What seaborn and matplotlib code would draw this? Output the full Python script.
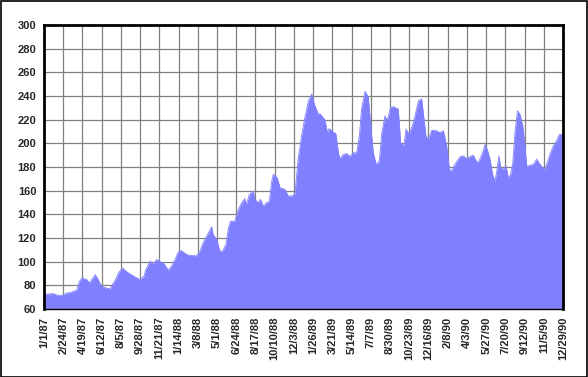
import matplotlib
matplotlib.use("Agg")
import matplotlib.pyplot as plt
import matplotlib.dates as mdates
import numpy as np
import pandas as pd
import seaborn as sns
from matplotlib.patches import Rectangle

# Data (day offset from 1/1/87, value)
day_offsets = [0, 26, 34, 47, 54, 64, 75, 92, 99, 106, 120, 127, 137, 144, 150, 159, 167, 185,
               202, 209, 221, 227, 237, 256, 270, 281, 286, 298, 307, 316, 324, 337, 349, 358,
               368, 377, 385, 401, 410, 429, 438, 447, 457, 471, 475, 485, 494, 502, 511, 518,
               524, 536, 546, 555, 564, 569, 577, 588, 592, 602, 608, 616, 625, 633, 639, 644,
               655, 663, 677, 686, 695, 705, 714, 724, 733, 743, 752, 761, 771, 775, 789, 796,
               801, 808, 820, 827, 831, 841, 850, 860, 869, 878, 886, 892, 902, 911, 918, 925,
               933, 942, 949, 958, 964, 974, 981, 995, 1002, 1011, 1017, 1026, 1036, 1042, 1052,
               1061, 1067, 1073, 1080, 1089, 1103, 1112, 1122, 1131, 1139, 1145, 1152, 1159,
               1169, 1178, 1187, 1197, 1206, 1214, 1220, 1232, 1239, 1245, 1253, 1260, 1267,
               1272, 1278, 1283, 1290, 1298, 1304, 1311, 1317, 1323, 1330, 1337, 1345, 1351,
               1356, 1361, 1375, 1384, 1393, 1401, 1407, 1414, 1421, 1431, 1440, 1448, 1458]
values = [72.4, 73, 72, 71.3, 72, 73.5, 74, 76, 83, 86, 85, 82, 86, 89, 86, 80.6, 78.4, 77,
          85.4, 90.5, 94.7, 92.8, 90.5, 87, 85, 87.7, 93.3, 100.4, 97.6, 101.8, 100.4, 98.4, 92.8, 96,
          101.8, 108, 109.4, 106, 105.2, 105, 108.9, 116, 121.6, 129.5, 123, 118.8, 108.9, 109, 114.5, 128.6,
          134.3, 134, 144.2, 149.8, 153.2, 148.4, 156.9, 159.7, 152.7, 149.8, 152.7, 147, 149.8, 151, 166.8, 173.8,
          171, 162.5, 161, 155.5, 155.5, 157, 187, 207, 222, 236, 241.6, 231.7, 224.6, 225, 220, 209,
          212.4, 210.6, 208, 192, 187, 190.6, 191.4, 189, 192, 192, 206, 229, 244, 239, 214.7, 192,
          182.3, 185, 209, 223.3, 219, 230.5, 231, 229, 200.6, 197.9, 212, 207.7, 216, 223, 236,
          237.4, 222, 206, 203.5, 211, 210.6, 209, 210.6, 198, 178, 176.6, 181, 184.3,
          188.8, 189.4, 187, 188.8, 190, 185, 183.7, 192, 199, 195, 186.6, 173.8, 168,
          176.6, 189.4, 179.5, 178, 181, 171, 173.8, 183.7, 209, 227.5, 224.6, 214.8, 197.9,
          181, 181, 182.3, 186.6, 182.3, 179.5, 178, 183.7, 190.6, 198, 202, 207.7, 207]

y_ticks = [60, 80, 100, 120, 140, 160, 180, 200, 220, 240, 260, 280, 300]
tick_step_days = 54
n_ticks = 28

start = pd.Timestamp("1987-01-01")
df = pd.DataFrame({"date": start + pd.to_timedelta(day_offsets, unit="D"), "value": values})

sns.set_style("white")
plt.rcParams["font.family"] = ["Liberation Sans", "DejaVu Sans"]

fig = plt.figure(figsize=(5.88, 3.77), dpi=100)
ax = fig.add_axes([44 / 588, 1 - 309 / 377, (563 - 44) / 588, (309 - 25) / 377])

fill_color = "#8080FF"
ax.fill_between(df["date"], df["value"], 60, color=fill_color, linewidth=0, zorder=3)
sns.lineplot(data=df, x="date", y="value", ax=ax, color=fill_color, linewidth=0.6, zorder=3)

tick_dates = [start + pd.Timedelta(days=tick_step_days * k) for k in range(n_ticks)]
ax.set_xticks(tick_dates)
ax.set_xticklabels([f"{d.month}/{d.day}/{d.year % 100:02d}" for d in tick_dates],
                   rotation=90, fontsize=8, fontweight="bold")
ax.set_yticks(y_ticks)
ax.set_yticklabels([str(v) for v in y_ticks], fontsize=8, fontweight="bold")
ax.set_xlim(tick_dates[0], tick_dates[-1])
ax.set_ylim(60, 300)
ax.set_xlabel("")
ax.set_ylabel("")

ax.grid(True, color="#808080", linewidth=0.9, zorder=1)
ax.set_axisbelow(True)
ax.tick_params(axis="both", direction="out", length=3.5, width=0.9, color="black", pad=2)

for side in ["left", "top", "right"]:
    ax.spines[side].set_visible(True)
    ax.spines[side].set_color("black")
    ax.spines[side].set_linewidth(2.0)
ax.spines["bottom"].set_color("black")
ax.spines["bottom"].set_linewidth(1.0)
for s in ax.spines.values():
    s.set_zorder(5)

fig.patches.append(Rectangle((0.001, 0.001), 0.997, 0.997, transform=fig.transFigure,
                             fill=False, edgecolor="black", linewidth=1.2))

fig.savefig("out.png", dpi=100)
